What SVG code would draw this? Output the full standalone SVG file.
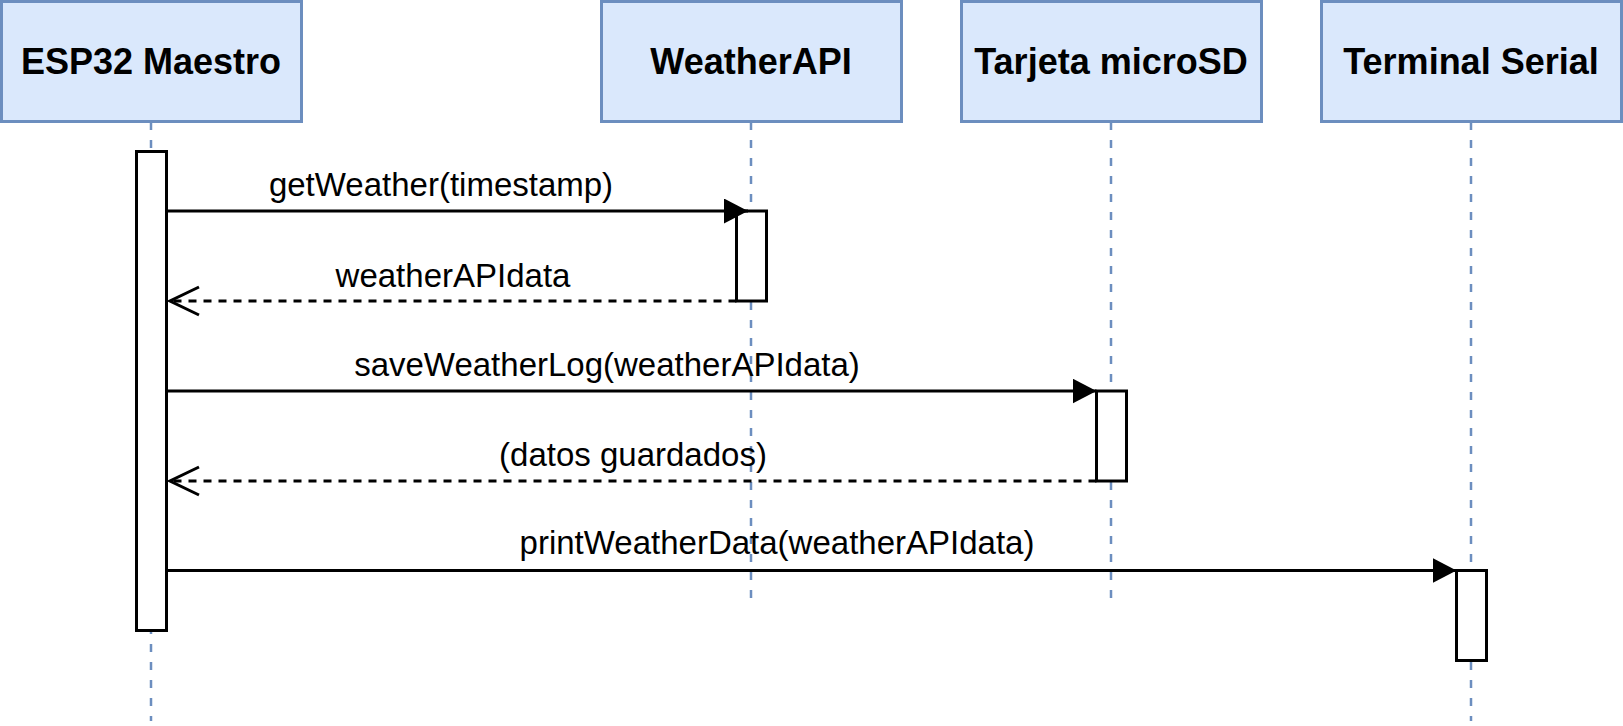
<svg xmlns="http://www.w3.org/2000/svg" width="1623" height="726" viewBox="0 0 1623 726">
<style>
.hdr{fill:#dae8fc;stroke:#6c8ebf;stroke-width:3}
.ht{font-family:"Liberation Sans",Arial,sans-serif;font-weight:bold;font-size:36px;text-anchor:middle;fill:#000}
.life{stroke:#6c8ebf;stroke-width:2.5;stroke-dasharray:8 10;fill:none}
.act{fill:#fff;stroke:#000;stroke-width:3}
.msg{stroke:#000;stroke-width:3;fill:none}
.ret{stroke:#000;stroke-width:3;fill:none;stroke-dasharray:8 7}
.lbl{font-family:"Liberation Sans",Arial,sans-serif;font-size:33px;text-anchor:middle;fill:#000}
</style>
<defs>
<marker id="fill" markerUnits="userSpaceOnUse" markerWidth="26" markerHeight="26" refX="24" refY="12.5" orient="auto">
<path d="M0,0 L24,12.5 L0,25 Z" fill="#000"/>
</marker>
<marker id="open" markerUnits="userSpaceOnUse" markerWidth="34" markerHeight="34" refX="31" refY="16" orient="auto">
<path d="M2,2 L31,16 L2,30" fill="none" stroke="#000" stroke-width="3"/>
</marker>
</defs>
<rect width="1623" height="726" fill="#fff"/>
<g id="lifelines">
<line class="life" x1="151" y1="122" x2="151" y2="721"/>
<line class="life" x1="751" y1="122" x2="751" y2="598"/>
<line class="life" x1="1111" y1="122" x2="1111" y2="598"/>
<line class="life" x1="1471" y1="122" x2="1471" y2="721"/>
</g>
<g id="esp32"><rect class="hdr" x="1.5" y="1.5" width="300" height="120"/><text class="ht" x="151" y="74">ESP32 Maestro</text></g>
<g id="weatherapi"><rect class="hdr" x="601.5" y="1.5" width="300" height="120"/><text class="ht" x="751" y="74">WeatherAPI</text></g>
<g id="microsd"><rect class="hdr" x="961.5" y="1.5" width="300" height="120"/><text class="ht" x="1111" y="74">Tarjeta microSD</text></g>
<g id="terminal"><rect class="hdr" x="1321.5" y="1.5" width="300" height="120"/><text class="ht" x="1471" y="74">Terminal Serial</text></g>
<g id="act-esp32"><rect class="act" x="136.5" y="151.5" width="30" height="479"/></g>
<g id="act-weatherapi"><rect class="act" x="736.5" y="211" width="30" height="90"/></g>
<g id="act-microsd"><rect class="act" x="1096.5" y="391" width="30" height="90"/></g>
<g id="act-terminal"><rect class="act" x="1456.5" y="570.5" width="30" height="90"/></g>
<g id="connectors">
<line class="msg" x1="166.5" y1="211" x2="748" y2="211" marker-end="url(#fill)"/>
<text class="lbl" x="441" y="196">getWeather(timestamp)</text>
<line class="ret" x1="736.5" y1="301" x2="170" y2="301" marker-end="url(#open)"/>
<text class="lbl" x="453" y="287">weatherAPIdata</text>
<line class="msg" x1="166.5" y1="391" x2="1096.5" y2="391" marker-end="url(#fill)"/>
<text class="lbl" x="607" y="376">saveWeatherLog(weatherAPIdata)</text>
<line class="ret" x1="1096.5" y1="481" x2="170" y2="481" marker-end="url(#open)"/>
<text class="lbl" x="633" y="466">(datos guardados)</text>
<line class="msg" x1="166.5" y1="570.5" x2="1456.5" y2="570.5" marker-end="url(#fill)"/>
<text class="lbl" x="777" y="554">printWeatherData(weatherAPIdata)</text>
</g>
</svg>
